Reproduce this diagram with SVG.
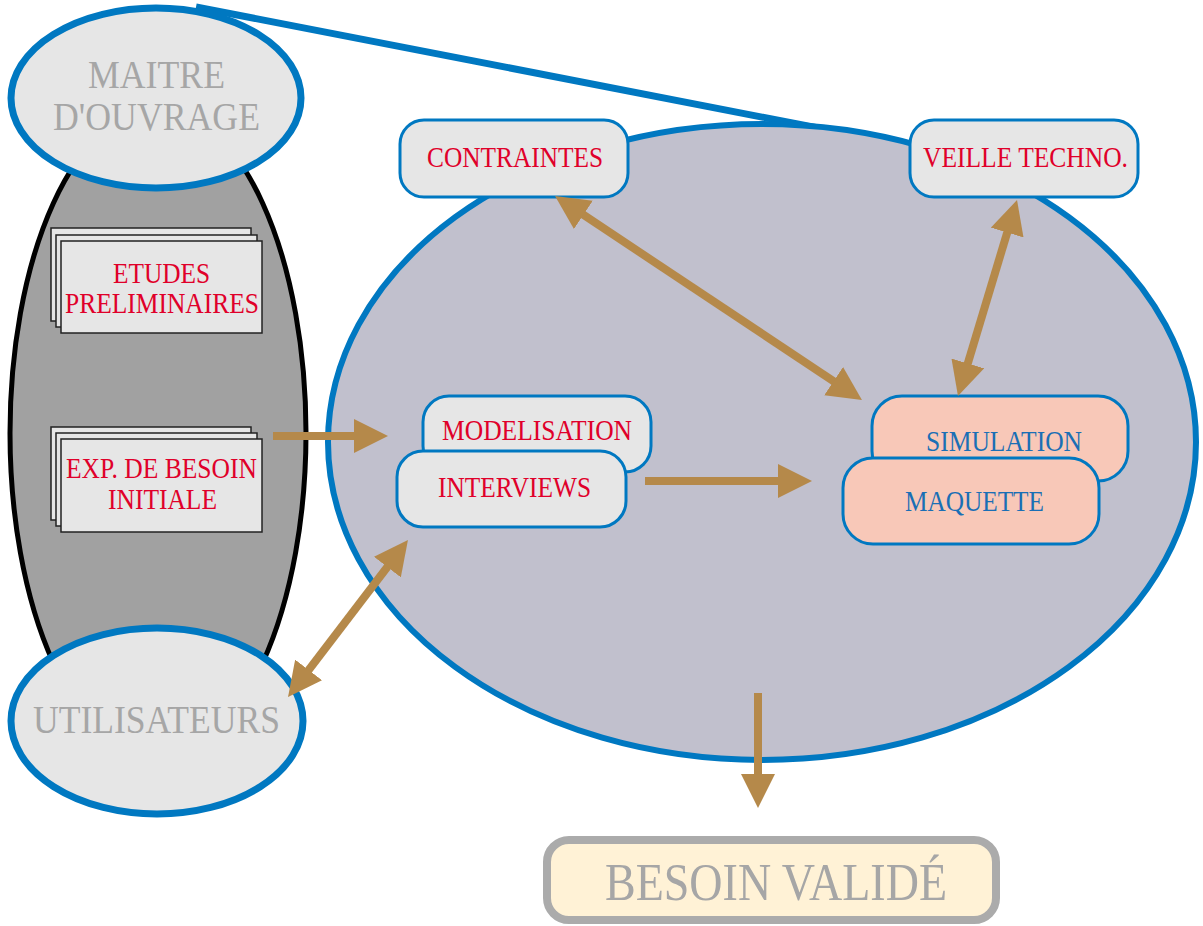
<svg xmlns="http://www.w3.org/2000/svg" width="1203" height="926" viewBox="0 0 1203 926">
<defs>
<style>
.t{font-family:"Liberation Serif","Times New Roman",serif;}
.red{fill:#e0002a;font-size:30px;}
.blu{fill:#1a6fb5;font-size:30px;}
.gry{fill:#a6a6a6;font-size:40px;}
.box{fill:#e6e6e6;stroke:#0078c1;stroke-width:3;}
.pbox{fill:#f8c8b8;stroke:#0078c1;stroke-width:3;}
.doc{fill:#e6e6e6;stroke:#222;stroke-width:1.5;}
.bell{fill:#e6e6e6;stroke:#0078c1;stroke-width:7;}
.arr{stroke:#b5894a;stroke-width:8;fill:none;}
</style>
<marker id="ah" markerUnits="userSpaceOnUse" markerWidth="34" markerHeight="34" refX="11" refY="17" orient="auto-start-reverse" viewBox="0 0 34 34">
<path d="M0,0 L34,17 L0,34 z" fill="#b5894a"/>
</marker>
</defs>

<g id="liaison">
<line x1="196" y1="7" x2="880" y2="140" stroke="#0078c1" stroke-width="7"/>
</g>

<g id="groupe-gauche">
<ellipse cx="158" cy="433" rx="148" ry="325" fill="#a1a1a1" stroke="#000" stroke-width="5"/>
</g>

<g id="zone-validation">
<ellipse cx="762" cy="442" rx="434" ry="318" fill="#c1c0cd" stroke="#0078c1" stroke-width="6"/>
</g>

<g id="maitre-ouvrage">
<ellipse class="bell" cx="156" cy="98" rx="145" ry="90"/>
<text class="t gry" x="88" y="88" textLength="137" lengthAdjust="spacingAndGlyphs">MAITRE</text>
<text class="t gry" x="53" y="130" textLength="207" lengthAdjust="spacingAndGlyphs">D'OUVRAGE</text>
</g>

<g id="utilisateurs">
<ellipse class="bell" cx="157" cy="721" rx="146" ry="93"/>
<text class="t gry" x="33" y="733" textLength="247" lengthAdjust="spacingAndGlyphs">UTILISATEURS</text>
</g>

<g id="etudes">
<rect class="doc" x="51" y="228" width="200" height="93"/>
<rect class="doc" x="56" y="235" width="201" height="92"/>
<rect class="doc" x="61" y="241" width="201" height="92"/>
<text class="t red" x="113" y="283" textLength="97" lengthAdjust="spacingAndGlyphs">ETUDES</text>
<text class="t red" x="65" y="313" textLength="194" lengthAdjust="spacingAndGlyphs">PRELIMINAIRES</text>
</g>

<g id="exp-besoin">
<rect class="doc" x="51" y="427" width="200" height="93"/>
<rect class="doc" x="56" y="433" width="201" height="93"/>
<rect class="doc" x="61" y="439" width="201" height="93"/>
<text class="t red" x="66" y="478" textLength="191" lengthAdjust="spacingAndGlyphs">EXP. DE BESOIN</text>
<text class="t red" x="108" y="509" textLength="109" lengthAdjust="spacingAndGlyphs">INITIALE</text>
</g>

<g id="contraintes">
<rect class="box" x="400" y="120" width="228" height="77" rx="24"/>
<text class="t red" x="427" y="167" textLength="176" lengthAdjust="spacingAndGlyphs">CONTRAINTES</text>
</g>

<g id="veille">
<rect class="box" x="910" y="120" width="228" height="77" rx="24"/>
<text class="t red" x="923" y="167" textLength="205" lengthAdjust="spacingAndGlyphs">VEILLE TECHNO.</text>
</g>

<g id="modelisation">
<rect class="box" x="423" y="396" width="228" height="76" rx="26"/>
<text class="t red" x="442" y="440" textLength="190" lengthAdjust="spacingAndGlyphs">MODELISATION</text>
</g>

<g id="interviews">
<rect class="box" x="397" y="451" width="229" height="76" rx="26"/>
<text class="t red" x="438" y="497" textLength="153" lengthAdjust="spacingAndGlyphs">INTERVIEWS</text>
</g>

<g id="simulation">
<rect class="pbox" x="872" y="396" width="256" height="85" rx="30"/>
<text class="t blu" x="926" y="451" textLength="156" lengthAdjust="spacingAndGlyphs">SIMULATION</text>
</g>

<g id="maquette">
<rect class="pbox" x="843" y="458" width="256" height="86" rx="30"/>
<text class="t blu" x="905" y="511" textLength="139" lengthAdjust="spacingAndGlyphs">MAQUETTE</text>
</g>

<g id="besoin-valide">
<rect x="547" y="840" width="449" height="80" rx="22" fill="#fff2d6" stroke="#ababab" stroke-width="8"/>
<text class="t" x="605" y="900" font-size="52" fill="#a6a6a6" textLength="342" lengthAdjust="spacingAndGlyphs">BESOIN VALIDÉ</text>
</g>

<g id="connecteurs">
<line class="arr" x1="273" y1="436" x2="365" y2="436" marker-end="url(#ah)"/>
<line class="arr" x1="645" y1="481" x2="789" y2="481" marker-end="url(#ah)"/>
<line class="arr" x1="758" y1="693" x2="758" y2="785" marker-end="url(#ah)"/>
<line class="arr" x1="574.2" y1="208.7" x2="842.8" y2="387.3" marker-start="url(#ah)" marker-end="url(#ah)"/>
<line class="arr" x1="1010.4" y1="222" x2="964.6" y2="374" marker-start="url(#ah)" marker-end="url(#ah)"/>
<line class="arr" x1="394" y1="558.3" x2="302" y2="678.7" marker-start="url(#ah)" marker-end="url(#ah)"/>
</g>
</svg>
